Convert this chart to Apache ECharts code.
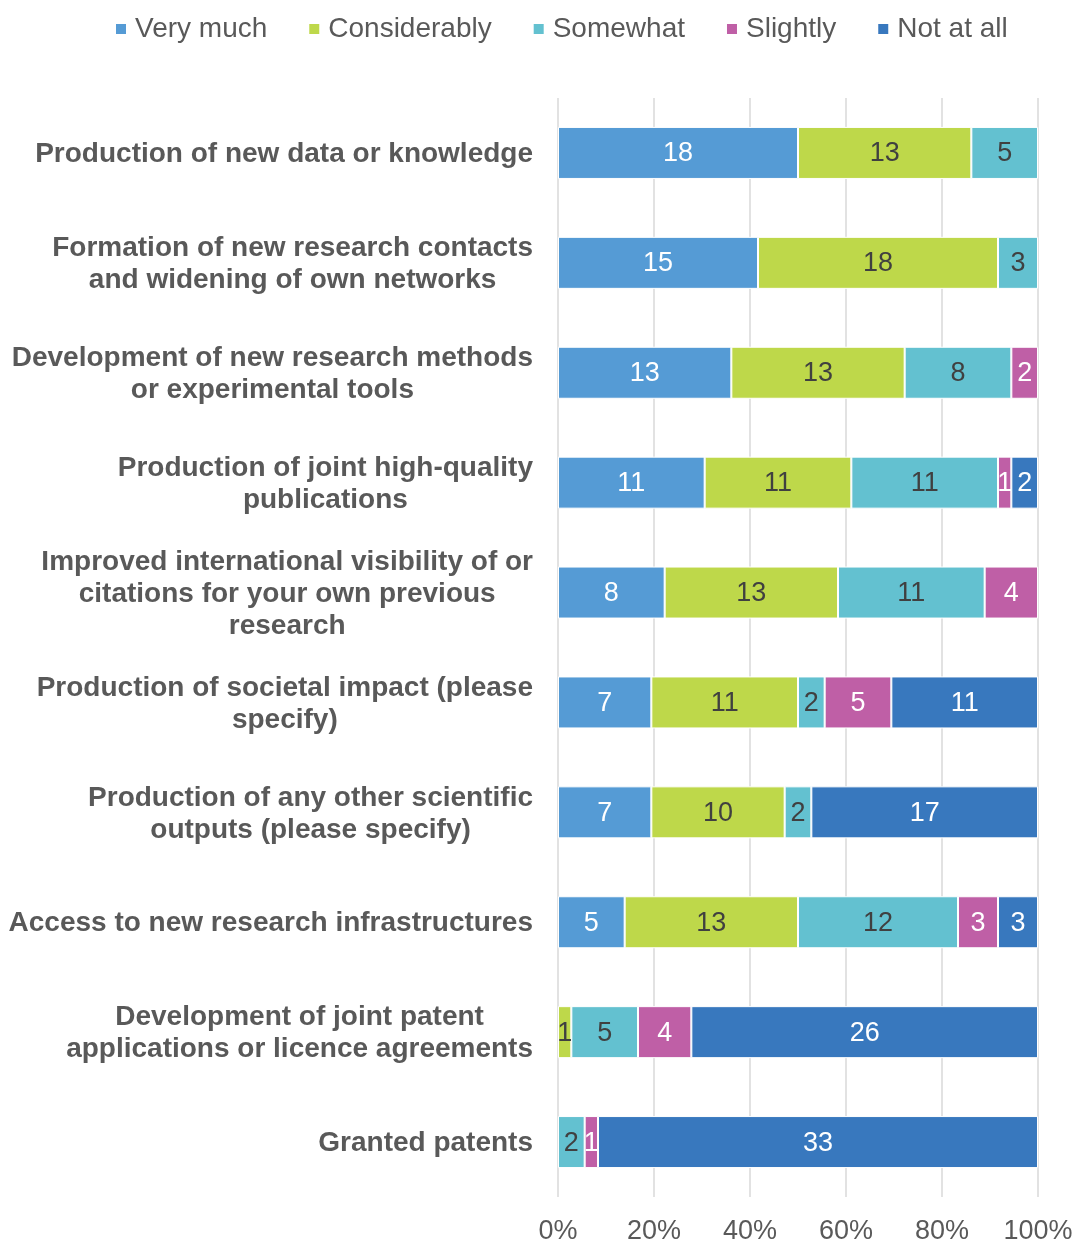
<!DOCTYPE html>
<html>
<head>
<meta charset="utf-8">
<script src="https://cdn.jsdelivr.net/npm/echarts@6/dist/echarts.min.js"></script>
<style>html,body{margin:0;padding:0;background:#fff;}#c{width:1078px;height:1245px;}</style>
</head>
<body>
<div id="c"></div>
<script>
const categories = [
  "Production of new data or knowledge",
  "Formation of new research contacts\nand widening of own networks",
  "Development of new research methods\nor experimental tools",
  "Production of joint high-quality\npublications",
  "Improved international visibility of or\ncitations for your own previous\nresearch",
  "Production of societal impact (please\nspecify)",
  "Production of any other scientific\noutputs (please specify)",
  "Access to new research infrastructures",
  "Development of joint patent\napplications or licence agreements",
  "Granted patents"
];
const seriesNames = ["Very much", "Considerably", "Somewhat", "Slightly", "Not at all"];
const veryMuch     = [18, 15, 13, 11, 8, 7, 7, 5, 0, 0];
const considerably = [13, 18, 13, 11, 13, 11, 10, 13, 1, 0];
const somewhat     = [5, 3, 8, 11, 11, 2, 2, 12, 5, 2];
const slightly     = [0, 0, 2, 1, 4, 5, 0, 3, 4, 1];
const notAtAll     = [0, 0, 0, 2, 0, 11, 17, 3, 26, 33];
const xTickLabels  = ["0%", "20%", "40%", "60%", "80%", "100%"];

const colors = ["#559BD5", "#BED84A", "#63C1D0", "#BF5FA6", "#3878BE"];
const labelColors = ["#ffffff", "#404040", "#404040", "#ffffff", "#ffffff"];
const allSeries = [veryMuch, considerably, somewhat, slightly, notAtAll];
const totals = categories.map((_, i) => allSeries.reduce((s, arr) => s + arr[i], 0));

const chart = echarts.init(document.getElementById('c'));
const FONT = 'Liberation Sans, Arial, sans-serif';

chart.setOption({
  animation: false,
  color: colors,
  legend: {
    top: 10,
    left: 109,
    itemWidth: 12,
    itemHeight: 12,
    itemGap: 40,
    icon: 'rect',
    textStyle: { color: '#595959', fontSize: 28, fontFamily: FONT, padding: [0, 0, 0, 3] },
    data: seriesNames
  },
  grid: { left: 558, right: 40, top: 98, bottom: 45, containLabel: false },
  xAxis: {
    type: 'value', min: 0, max: 100, interval: 20,
    axisLine: { show: false },
    axisTick: { show: false },
    splitLine: { lineStyle: { color: '#d9d9d9', width: 1.5 } },
    axisLabel: {
      color: '#595959', fontSize: 27, fontFamily: FONT, margin: 21,
      formatter: (v) => xTickLabels[Math.round(v / 20)]
    }
  },
  yAxis: {
    type: 'category', inverse: true, data: categories,
    axisLine: { show: false },
    axisTick: { show: false },
    axisLabel: {
      margin: 25,
      align: 'right',
      padding: [3, 0, 0, 0],
      formatter: (v) => v.split('\n').map(l => '{c|' + l + '}').join('\n'),
      rich: {
        c: { align: 'center', color: '#595959', fontSize: 28, fontWeight: 'bold', fontFamily: FONT, lineHeight: 32 }
      }
    }
  },
  series: allSeries.map((arr, si) => ({
    name: seriesNames[si],
    type: 'bar',
    stack: 'total',
    barWidth: 52,
    itemStyle: { color: colors[si], borderColor: '#ffffff', borderWidth: 1 },
    label: {
      show: true,
      position: 'inside',
      color: labelColors[si],
      fontSize: 27,
      fontFamily: FONT,
      offset: [0, 1],
      formatter: (p) => arr[p.dataIndex] > 0 ? String(arr[p.dataIndex]) : ''
    },
    data: arr.map((v, i) => v > 0 ? v / totals[i] * 100 : null)
  }))
});
</script>
</body>
</html>
